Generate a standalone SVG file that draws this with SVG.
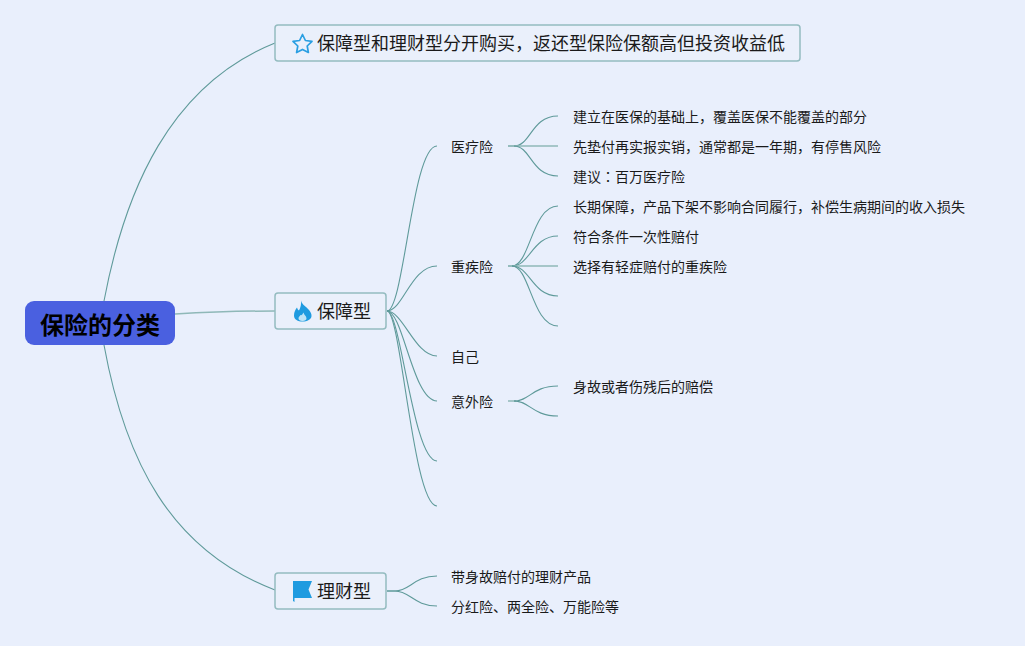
<svg xmlns="http://www.w3.org/2000/svg" width="1025" height="646" viewBox="0 0 1025 646">
<style>
text{font-family:"Noto Sans CJK SC","Noto Sans",sans-serif;fill:#1a1a1a}
.l{font-size:14px}
.m{font-size:18px}
.r{font-size:24px;font-weight:700;fill:#000}
.box{fill:#eaf0fb;stroke:#94bcc0;stroke-width:1.5}
.c path{fill:none;stroke:#5f9a9a;stroke-width:1.1}
.c path.t{stroke:#8fb8b8;stroke-width:1.5}
.i{fill:#1f9be0}
</style>
<rect width="1025" height="646" fill="#e9effc"/>
<g id="connectors" class="c">
<path d="M104 301C125 190 170 85 275 43"/>
<path d="M175 314C210 312 240 311 275 311" class="t"/>
<path d="M104 345C125 460 170 550 275 590"/>
<path d="M387 311C404 311 412 146 437 146"/>
<path d="M387 311C403 311 411 266 437 266"/>
<path d="M387 311C403 311 415 356 437 356"/>
<path d="M387 311C403 311 413 401 437 401"/>
<path d="M387 311C401 311 413 461 437 461"/>
<path d="M387 311C401 311 413 506 437 506"/>
<path d="M387 591H395C410 591 414 576 437 576"/>
<path d="M387 591H395C410 591 414 606 437 606"/>
<path d="M508 146H516" class="t"/>
<path d="M514 146C531 146 531 116 558 116"/>
<path d="M508 146H558" class="t"/>
<path d="M514 146C531 146 531 176 558 176"/>
<path d="M508 266H514" class="t"/>
<path d="M512 266C530 266 532 206 558 206"/>
<path d="M512 266C530 266 532 236 558 236"/>
<path d="M508 266H558" class="t"/>
<path d="M512 266C530 266 532 296 558 296"/>
<path d="M512 266C530 266 532 326 558 326"/>
<path d="M508 401H516" class="t"/>
<path d="M514 401C530 401 532 386 558 386"/>
<path d="M514 401C530 401 532 416 558 416"/>
</g>
<g id="root"><rect x="25" y="301" width="150" height="44" rx="9" fill="#4a60e0"/><text x="100" y="334" text-anchor="middle" class="r">保险的分类</text></g>
<g id="note"><rect x="275" y="25" width="525" height="36" rx="3" class="box"/>
<path d="M302.500 34.500L305.400 40.500 312 41.400 307.200 46 308.400 52.500 302.500 49.400 296.600 52.500 297.800 46 293 41.400 299.600 40.500Z" fill="none" stroke="#2a9fe2" stroke-width="1.700" stroke-linejoin="round"/>
<text x="317" y="50" class="m">保障型和理财型分开购买，返还型保险保额高但投资收益低</text></g>
<g id="baozhang"><rect x="275" y="293" width="111" height="36" rx="3" class="box"/>
<path d="M301 300.500C302 305 306 306 309 310C311 312.500 311.500 314 311.500 316C311.500 319.500 307 321.500 302.500 321.500C298 321.500 294 319.500 294 315.500C294 312 295.500 309.500 297 307.500C297.500 309 298 310 299 310.500C300.500 307.500 301.500 304 301 300.500Z" class="i"/>
<path d="M303.500 312.500C304 315 306.500 316 306.500 318.500C306.500 320 305 321 302.500 321C300 321 298.500 320 298.500 318.500C298.500 316.500 300 316 300.500 315C301.500 315.500 302.500 314.500 303.500 312.500Z" fill="#bfe3f7"/>
<text x="317" y="318" class="m">保障型</text></g>
<g id="licai"><rect x="275" y="573" width="111" height="36" rx="3" class="box"/>
<path d="M293 581H312L308.500 589.500 312 598H294.500V602L293 601Z" class="i"/>
<text x="317" y="598" class="m">理财型</text></g>
<g id="n-yiliao"><text x="451" y="152" class="l">医疗险</text></g>
<g id="n-zhongji"><text x="451" y="272" class="l">重疾险</text></g>
<g id="n-ziji"><text x="451" y="362" class="l">自己</text></g>
<g id="n-yiwai"><text x="451" y="407" class="l">意外险</text></g>
<g id="n-1"><text x="573" y="122" class="l">建立在医保的基础上，覆盖医保不能覆盖的部分</text></g>
<g id="n-2"><text x="573" y="152" class="l">先垫付再实报实销，通常都是一年期，有停售风险</text></g>
<g id="n-3"><text x="573" y="182" class="l">建议<tspan font-family="Noto Sans CJK TC">：</tspan>百万医疗险</text></g>
<g id="n-4"><text x="573" y="212" class="l">长期保障，产品下架不影响合同履行，补偿生病期间的收入损失</text></g>
<g id="n-5"><text x="573" y="242" class="l">符合条件一次性赔付</text></g>
<g id="n-6"><text x="573" y="272" class="l">选择有轻症赔付的重疾险</text></g>
<g id="n-7"><text x="573" y="392" class="l">身故或者伤残后的赔偿</text></g>
<g id="n-8"><text x="451" y="582" class="l">带身故赔付的理财产品</text></g>
<g id="n-9"><text x="451" y="612" class="l">分红险、两全险、万能险等</text></g>
</svg>
